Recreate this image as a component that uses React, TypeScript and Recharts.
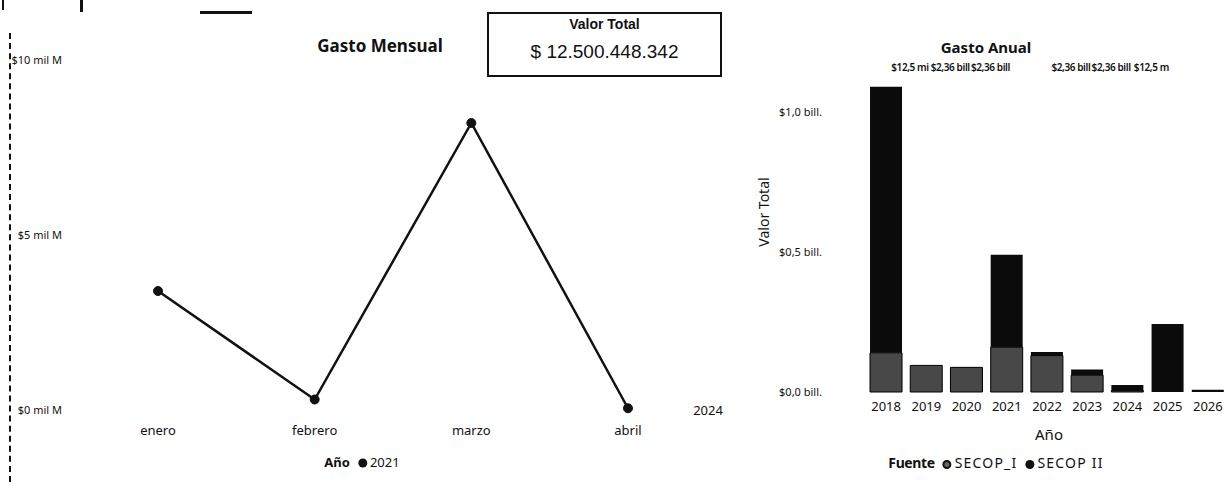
import React from "react";
import {
  Bar,
  BarChart,
  LabelList,
  Line,
  LineChart,
  XAxis,
  YAxis
} from "recharts";

// gasto mensual 2021, en miles de millones
const months = ["enero", "febrero", "marzo", "abril"];
const gasto2021 = [3.4, 0.3, 8.2, 0.05];
const monthTicks = [0, 5, 10];

// gasto anual por fuente, en billones
const years = ["2018", "2019", "2020", "2021", "2022", "2023", "2024", "2025", "2026"];
const secop1 = [0.14, 0.095, 0.088, 0.16, 0.13, 0.06, 0.005, 0, 0];
const secop2 = [0.95, 0, 0, 0.33, 0.013, 0.02, 0.02, 0.243, 0.008];
const topLabels = ["$12,5 mi", "$2,36 bill", "$2,36 bill", "", "$2,36 bill", "$2,36 bill", "$12,5 m", "", ""];
const yearTicks = [0, 0.5, 1];

const monthData = months.map((mes, i) => ({ mes, v2021: gasto2021[i] }));
// the label sits on whichever segment of the stack actually has a bar
const yearData = years.map((year, i) => ({
  year,
  secop1: secop1[i],
  secop2: secop2[i],
  labelTop: secop2[i] > 0 ? topLabels[i] : "",
  labelBase: secop2[i] > 0 ? "" : topLabels[i]
}));

const INK = "#111";
const FONT = '"Noto Sans", "Open Sans", sans-serif';

const Txt = ({ x, y, children, style }: any) => (
  <div
    style={{
      position: "absolute",
      left: x,
      top: y,
      transform: "translate(-50%, -50%)",
      whiteSpace: "nowrap",
      lineHeight: 1,
      ...style
    }}
  >
    {children}
  </div>
);

const Dot = ({ fill, ring }: { fill: string; ring?: boolean }) => (
  <span
    style={{
      display: "inline-block",
      width: 9,
      height: 9,
      borderRadius: "50%",
      background: fill,
      boxSizing: "border-box",
      border: ring ? `2px solid ${INK}` : "none",
      margin: "0 3px 0 8px",
      verticalAlign: "middle"
    }}
  />
);

const TopLabel = (props: any) => {
  const vb = props.viewBox || {};
  const x = Number(props.x ?? vb.x);
  const w = Number(props.width ?? vb.width);
  if (!props.value || isNaN(x)) return null;
  return (
    <text
      x={x + w / 2 + 24}
      y={71}
      textAnchor="middle"
      fontSize={10}
      fontWeight={600}
      letterSpacing={-0.4}
      fontFamily={FONT}
      fill={INK}
    >
      {props.value}
    </text>
  );
};

const App: React.FC = () => {
  return (
    <div
      style={{
        position: "absolute",
        left: 0,
        top: 0,
        width: 1230,
        height: 482,
        background: "#fff",
        fontFamily: FONT,
        color: INK,
        overflow: "hidden"
      }}
    >
      {/* scan marks */}
      <div style={{ position: "absolute", left: 2, top: 0, width: 2, height: 10, background: INK }} />
      <div style={{ position: "absolute", left: 80, top: 0, width: 3, height: 12, background: INK }} />
      <div style={{ position: "absolute", left: 200, top: 11, width: 52, height: 3, background: INK }} />
      <div
        style={{
          position: "absolute",
          left: 9,
          top: 33,
          height: 449,
          borderLeft: `2px dashed ${INK}`
        }}
      />

      {/* Gasto Mensual */}
      <div style={{ position: "absolute", left: 0, top: 0 }}>
        <LineChart
          width={740}
          height={482}
          data={monthData}
          margin={{ top: 60, right: 20, bottom: 0, left: 0 }}
        >
          <XAxis
            dataKey="mes"
            axisLine={false}
            tickLine={false}
            tickSize={0}
            tickMargin={16}
            height={72}
            interval={0}
            padding={{ left: 90, right: 92 }}
            tick={{ fontSize: 13, fill: INK, fontFamily: FONT }}
          />
          <YAxis
            domain={[0, 10]}
            ticks={monthTicks}
            tickFormatter={(v) => `$${v} mil M`}
            axisLine={false}
            tickLine={false}
            tickSize={0}
            tickMargin={6}
            width={68}
            tick={{ fontSize: 11, fill: INK, fontFamily: FONT }}
          />
          <Line
            type="linear"
            dataKey="v2021"
            stroke={INK}
            strokeWidth={2.5}
            dot={{ r: 4.5, fill: INK, stroke: INK, strokeWidth: 1 }}
            isAnimationActive={false}
          />
        </LineChart>
      </div>
      <Txt x={380} y={45} style={{ fontSize: 17, fontWeight: 700 }}>
        Gasto Mensual
      </Txt>
      <div
        style={{
          position: "absolute",
          left: 487,
          top: 12,
          width: 235,
          height: 65,
          boxSizing: "border-box",
          border: `2px solid ${INK}`,
          fontFamily: '"Liberation Sans", Arial, sans-serif',
          textAlign: "center"
        }}
      >
        <div style={{ fontSize: 14, fontWeight: 700, marginTop: 2 }}>Valor Total</div>
        <div style={{ fontSize: 19, marginTop: 9 }}>$ 12.500.448.342</div>
      </div>
      <Txt x={708} y={410} style={{ fontSize: 13 }}>
        2024
      </Txt>
      <Txt x={362} y={462} style={{ fontSize: 13 }}>
        <b>Año</b>
        <Dot fill={INK} />
        2021
      </Txt>

      {/* Gasto Anual */}
      <div style={{ position: "absolute", left: 740, top: 0 }}>
        <BarChart
          width={490}
          height={482}
          data={yearData}
          margin={{ top: 84, right: 2, bottom: 60, left: 0 }}
          barCategoryGap="10%"
        >
          <XAxis
            dataKey="year"
            axisLine={false}
            tickLine={false}
            tickSize={0}
            tickMargin={10}
            height={30}
            interval={0}
            tick={{ fontSize: 13, fill: INK, fontFamily: FONT }}
          />
          <YAxis
            domain={[0, 1.1]}
            ticks={yearTicks}
            tickFormatter={(v) => `$${Number(v).toFixed(1).replace(".", ",")} bill.`}
            axisLine={false}
            tickLine={false}
            tickSize={0}
            tickMargin={44}
            width={126}
            tick={{ fontSize: 11, fill: INK, fontFamily: FONT }}
          />
          <Bar
            dataKey="secop1"
            stackId="fuente"
            fill="#484848"
            stroke="#000"
            strokeWidth={1}
            isAnimationActive={false}
          >
            <LabelList dataKey="labelBase" content={TopLabel} />
          </Bar>
          <Bar dataKey="secop2" stackId="fuente" fill="#0b0b0b" isAnimationActive={false}>
            <LabelList dataKey="labelTop" content={TopLabel} />
          </Bar>
        </BarChart>
      </div>
      <Txt x={986} y={47} style={{ fontSize: 15, fontWeight: 700 }}>
        Gasto Anual
      </Txt>
      <Txt x={764} y={212} style={{ fontSize: 14, transform: "translate(-50%, -50%) rotate(-90deg)" }}>
        Valor Total
      </Txt>
      <Txt x={1049} y={434} style={{ fontSize: 15 }}>
        Año
      </Txt>
      <Txt x={996} y={463} style={{ fontSize: 14 }}>
        <b style={{ letterSpacing: -0.4 }}>Fuente</b>
        <Dot fill="#666" ring />
        <span style={{ letterSpacing: 1.2 }}>SECOP_I</span>
        <Dot fill={INK} />
        <span style={{ letterSpacing: 1.2 }}>SECOP II</span>
      </Txt>
    </div>
  );
};

export default App;
